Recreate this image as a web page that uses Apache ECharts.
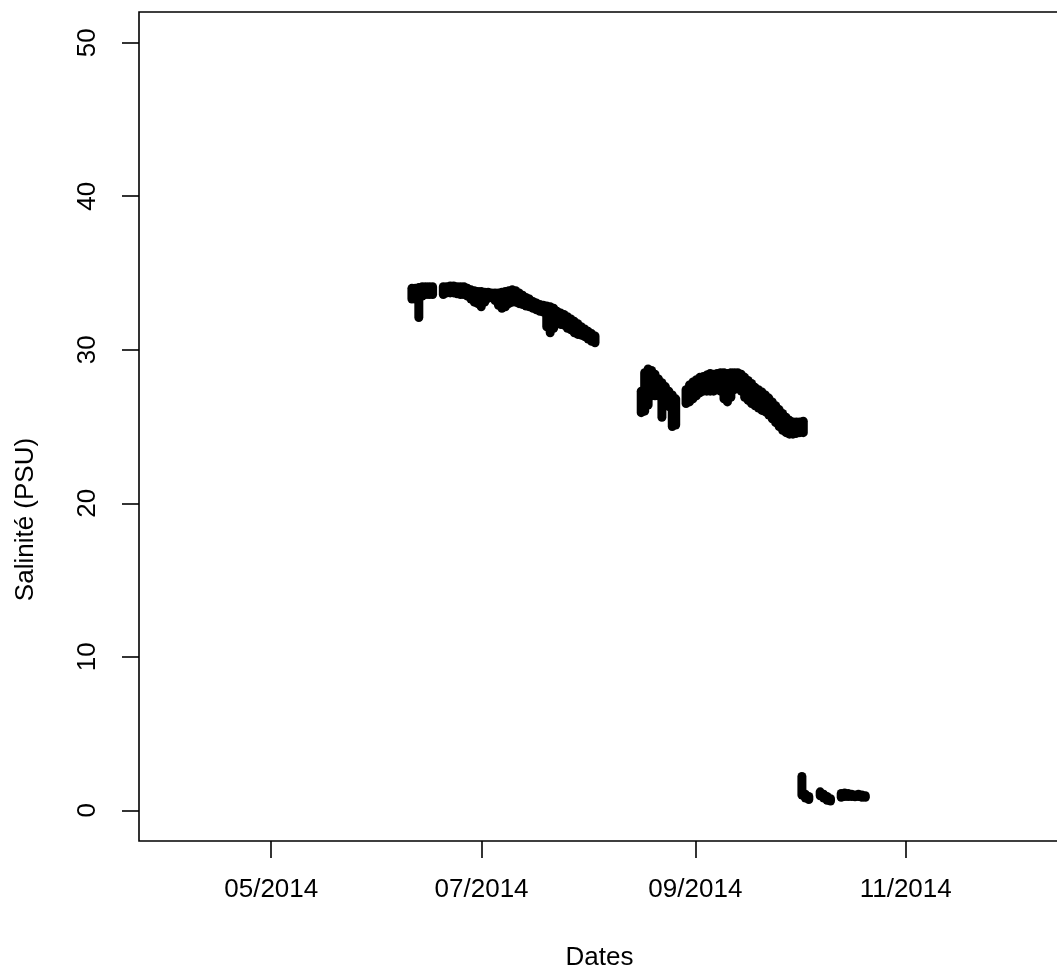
<!DOCTYPE html>
<html>
<head>
<meta charset="utf-8">
<script src="https://cdn.jsdelivr.net/npm/echarts@6/dist/echarts.min.js"></script>
<style>
html,body{margin:0;padding:0;overflow:hidden;background:#fff;}
#chart{width:1060px;height:972px;}
</style>
</head>
<body>
<div id="chart"></div>
<script>
// Days are counted from 2014-05-01 (UTC); each segment is sampled once a day from its start day.
const tickDates = ['2014-05-01', '2014-07-01', '2014-09-01', '2014-11-01'];
const tickLabels = ['05/2014', '07/2014', '09/2014', '11/2014'];
const yTicks = [0, 10, 20, 30, 40, 50];

const seg1aStart = 40.8;
const seg1aHi = [34.0, 34.0, 34.05, 34.1, 34.1, 34.1, 34.1];
const seg1aLo = [33.3, 33.3, 32.1, 33.5, 33.6, 33.6, 33.6];

const seg1bStart = 49.9;
const seg1bHi = [34.1, 34.1, 34.15, 34.15, 34.1, 34.1, 34.1, 34.0, 33.9, 33.85, 33.8, 33.8, 33.75, 33.75, 33.7, 33.7, 33.7, 33.75, 33.8, 33.85, 33.9, 33.85, 33.7, 33.55, 33.4, 33.3, 33.15, 33.05, 32.95, 32.9, 32.85, 32.8, 32.7, 32.5, 32.4, 32.3, 32.15, 32.0, 31.85, 31.7, 31.5, 31.35, 31.2, 31.05, 30.9];
const seg1bLo = [33.6, 33.7, 33.7, 33.7, 33.65, 33.6, 33.6, 33.5, 33.3, 33.1, 33.0, 32.8, 33.1, 33.35, 33.4, 33.2, 32.9, 32.7, 32.8, 33.0, 33.1, 33.1, 33.0, 32.95, 32.85, 32.8, 32.7, 32.6, 32.5, 32.45, 31.5, 31.1, 31.4, 31.7, 31.65, 31.6, 31.4, 31.3, 31.1, 31.0, 30.95, 30.85, 30.7, 30.55, 30.45];

const seg2aStart = 107.3;
const seg2aHi = [27.3, 28.5, 28.75, 28.65, 28.4, 28.1, 27.85, 27.6, 27.3, 27.05, 26.8];
const seg2aLo = [25.9, 26.0, 26.4, 27.0, 27.0, 27.0, 25.6, 26.4, 26.3, 25.0, 25.1];

const seg2bStart = 120.3;
const seg2bHi = [27.4, 27.7, 27.9, 28.05, 28.2, 28.25, 28.35, 28.45, 28.4, 28.45, 28.5, 28.5, 28.45, 28.5, 28.5, 28.5, 28.4, 28.2, 28.0, 27.8, 27.55, 27.4, 27.25, 27.05, 26.85, 26.6, 26.35, 26.1, 25.85, 25.6, 25.4, 25.3, 25.3, 25.3, 25.35];
const seg2bLo = [26.5, 26.6, 26.8, 27.0, 27.2, 27.3, 27.3, 27.3, 27.3, 27.4, 27.3, 26.8, 26.6, 26.9, 27.4, 27.5, 27.3, 26.9, 26.7, 26.5, 26.35, 26.2, 26.05, 25.95, 25.75, 25.5, 25.25, 25.0, 24.75, 24.6, 24.5, 24.5, 24.55, 24.6, 24.6];

const seg3aStart = 153.9;
const seg3aHi = [2.2, 1.05, 0.9];
const seg3aLo = [1.0, 0.8, 0.7];

const seg3bStart = 159.2;
const seg3bHi = [1.2, 1.05, 0.9, 0.75];
const seg3bLo = [0.95, 0.8, 0.65, 0.6];

const seg3cStart = 165.3;
const seg3cHi = [1.1, 1.12, 1.1, 1.05, 1.0, 1.05, 1.0, 0.95];
const seg3cLo = [0.85, 0.9, 0.9, 0.9, 0.88, 0.9, 0.85, 0.85];

const DAY = 86400000;
const base = Date.UTC(2014, 4, 1);
const segments = [
  [seg1aStart, seg1aHi, seg1aLo],
  [seg1bStart, seg1bHi, seg1bLo],
  [seg2aStart, seg2aHi, seg2aLo],
  [seg2bStart, seg2bHi, seg2bLo],
  [seg3aStart, seg3aHi, seg3aLo],
  [seg3bStart, seg3bHi, seg3bLo],
  [seg3cStart, seg3cHi, seg3cLo]
];
const rows = [];
segments.forEach(([start, hi, lo]) => {
  hi.forEach((h, i) => rows.push([start + i, lo[i], h]));
});

const tickDays = tickDates.map(d => Math.round((Date.parse(d + 'T00:00:00Z') - base) / DAY));
const labelOf = {};
tickDays.forEach((t, i) => { labelOf[t] = tickLabels[i]; });

const FONT = 'Liberation Sans, Arial, sans-serif';
const FS = 26;
const chart = echarts.init(document.getElementById('chart'), null, {renderer: 'canvas'});
chart.setOption({
  animation: false,
  backgroundColor: '#fff',
  grid: {left: 139, top: 12, right: 0, bottom: 131, outerBoundsMode: 'none', containLabel: false,
    show: true, borderColor: '#000', borderWidth: 1.6, backgroundColor: 'transparent'},
  xAxis: {
    type: 'value',
    min: -38.35,
    max: 228.75,
    name: 'Dates',
    nameLocation: 'middle',
    nameGap: 104,
    nameTextStyle: {fontFamily: FONT, fontSize: FS, color: '#000'},
    axisLine: {show: false, onZero: false},
    splitLine: {show: false},
    axisTick: {show: true, inside: false, length: 17, customValues: tickDays, lineStyle: {color: '#000', width: 1.6}},
    axisLabel: {show: true, customValues: tickDays, margin: 36, fontFamily: FONT, fontSize: FS, color: '#000',
      formatter: v => labelOf[Math.round(v)] || ''}
  },
  yAxis: {
    type: 'value',
    min: -2,
    max: 52,
    name: 'Salinité (PSU)',
    nameLocation: 'middle',
    nameGap: 100,
    nameRotate: 90,
    nameTextStyle: {fontFamily: FONT, fontSize: FS, color: '#000', padding: [0, 186, 0, 0]},
    axisLine: {show: false, onZero: false},
    splitLine: {show: false},
    axisTick: {show: true, inside: false, length: 17, customValues: yTicks, lineStyle: {color: '#000', width: 1.6}},
    axisLabel: {show: true, customValues: yTicks, rotate: 90, margin: 38, fontFamily: FONT, fontSize: FS, color: '#000'}
  },
  series: [{
    type: 'custom',
    data: rows,
    encode: {x: 0, y: [1, 2]},
    renderItem: function (params, api) {
      const p1 = api.coord([api.value(0), api.value(1)]);
      const p2 = api.coord([api.value(0), api.value(2)]);
      return {
        type: 'line',
        shape: {x1: p1[0], y1: p1[1], x2: p2[0], y2: p2[1]},
        style: {stroke: '#000', lineWidth: 9, lineCap: 'round'}
      };
    }
  }]
});
</script>
</body>
</html>
